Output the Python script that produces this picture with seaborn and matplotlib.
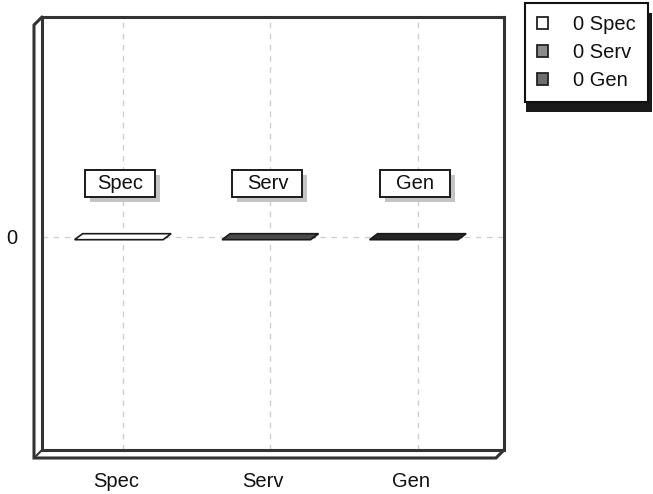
import matplotlib
matplotlib.use("Agg")
import pandas as pd
import seaborn as sns
import matplotlib.pyplot as plt
from matplotlib.patches import Polygon, Rectangle
from matplotlib.lines import Line2D
from matplotlib.transforms import ScaledTranslation

# data
categories = ["Spec", "Serv", "Gen"]
values = [0, 0, 0]
legend_labels = [f"{v} {c}" for v, c in zip(values, categories)]

df = pd.DataFrame({"cat": categories, "val": values})

legend_cols = ["#ffffff", "#8c8c8c", "#6e6e6e"]
bar_fill = ["#ffffff", "#4a4a4a", "#262626"]
frame_col = "#333333"
fs = 14.5

sns.set_theme(style="white")
plt.rcParams["font.family"] = ["Liberation Sans", "DejaVu Sans"]

W, H = 653, 494
fig = plt.figure(figsize=(W / 100, H / 100), dpi=100)
L, R, T, B = 42, 504, 17, 450
ax = fig.add_axes([L / W, 1 - B / H, (R - L) / W, (B - T) / H])

sns.barplot(data=df, x="cat", y="val", hue="cat", palette=legend_cols,
            width=0.6, edgecolor="#222222", linewidth=1, legend=False, ax=ax)

ax.set_xlim(-0.548, 2.584)
ax.set_ylim(-1, 1.03)
ax.set_xlabel("")
ax.set_ylabel("")

# flat "3D" slabs on top of each zero-height bar
xr = (ax.get_xlim()[1] - ax.get_xlim()[0]) / (R - L)
yr = (ax.get_ylim()[1] - ax.get_ylim()[0]) / (B - T)
skew, half = 4 * xr, 3 * yr
for bar, fc in zip(ax.patches, bar_fill):
    x0 = bar.get_x()
    x1 = x0 + bar.get_width()
    y = bar.get_y() + bar.get_height()
    poly = Polygon([(x0 - skew, y - half), (x1 - skew, y - half),
                    (x1 + skew, y + half), (x0 + skew, y + half)],
                   closed=True, fc=fc, ec="#1a1a1a", lw=1.2, zorder=3)
    ax.add_patch(poly)

# label boxes above the bars
ly = 0.25
bw, bh = 70 * xr, 27 * yr
for i, cat in enumerate(categories):
    c = i - 0.02
    ax.add_patch(Rectangle((c - bw / 2 + 5 * xr, ly - bh / 2 - 5 * yr), bw, bh,
                           fc="#c4c4c4", ec="none", zorder=4))
    ax.add_patch(Rectangle((c - bw / 2, ly - bh / 2), bw, bh,
                           fc="white", ec="#1a1a1a", lw=1.4, zorder=5))
    ax.text(c, ly, cat, ha="center", va="center", fontsize=fs,
            color="#111111", zorder=6)

# grid
ax.set_axisbelow(True)
ax.grid(True, linestyle=(0, (4, 4)), color="#d0d0d0", lw=1)
ax.set_yticks([0])
ax.set_yticklabels(["0"])
ax.tick_params(axis="y", length=0, pad=18, labelsize=fs, labelcolor="#111111")
ax.tick_params(axis="x", length=0, pad=16, labelsize=fs, labelcolor="#111111")
for lab in ax.get_xticklabels():
    lab.set_transform(lab.get_transform() + ScaledTranslation(-0.07, 0, fig.dpi_scale_trans))

for sp in ax.spines.values():
    sp.set_visible(True)
    sp.set_color(frame_col)
    sp.set_linewidth(2.2)

# outer depth edges of the box
d = 8
pts = [(L, T), (L - d, T + d), (L - d, B + d), (R - d, B + d), (R, B)]
fig.add_artist(Line2D([p[0] / W for p in pts], [1 - p[1] / H for p in pts],
                      color=frame_col, lw=2.2, solid_joinstyle="miter"))
fig.add_artist(Line2D([(L - d) / W, L / W], [1 - (B + d) / H, 1 - B / H],
                      color=frame_col, lw=1.5))

# legend
handles = [Rectangle((0, 0), 1, 1, fc=c, ec="#222222", lw=1.3) for c in legend_cols]
leg = fig.legend(handles, legend_labels, loc="upper right",
                 bbox_to_anchor=(648 / W, 1 - 3 / H), fontsize=fs,
                 frameon=True, fancybox=False, edgecolor="#111111", framealpha=1,
                 handlelength=0.55, handleheight=0.55, handletextpad=1.25,
                 labelspacing=0.45, borderpad=0.6, borderaxespad=0)
leg.get_frame().set_linewidth(1.5)
leg.get_frame().set_facecolor("white")
for t in leg.get_texts():
    t.set_color("#111111")

fig.canvas.draw()
bb = leg.get_window_extent()
fig.add_artist(Rectangle((bb.x0 + 1, bb.y0 - 10), bb.width + 3, bb.height,
                         transform=None, fc="#1a1a1a", ec="none", zorder=4))

fig.savefig("out.png", dpi=100)
